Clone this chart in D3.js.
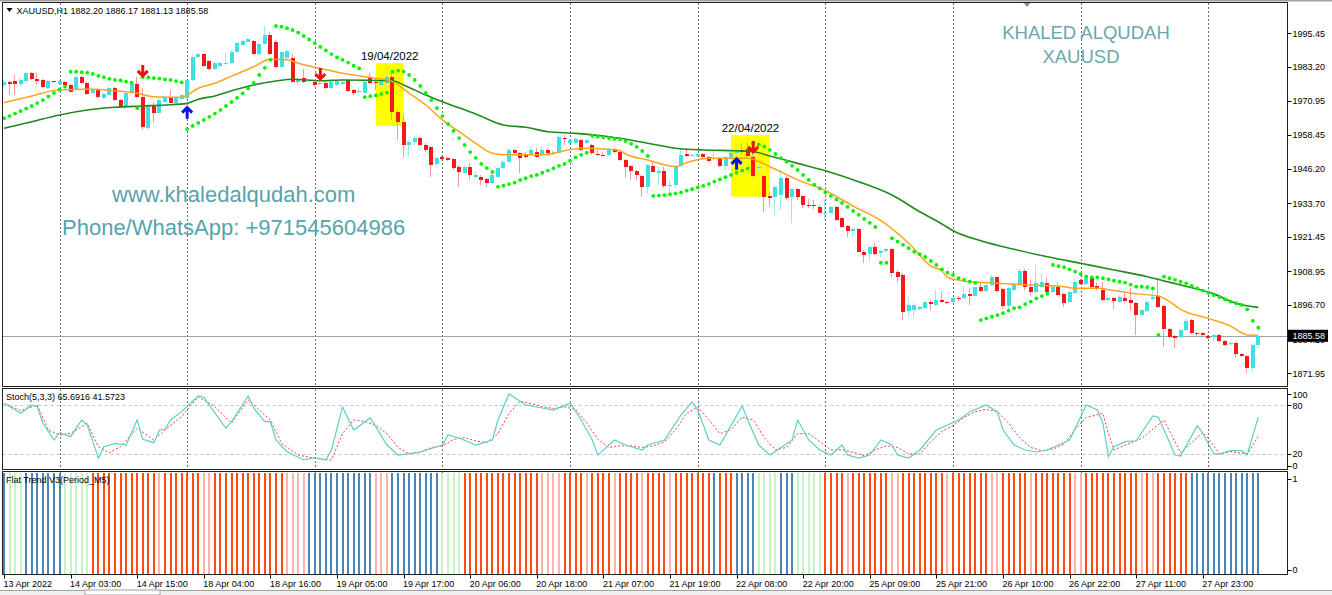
<!DOCTYPE html>
<html><head><meta charset="utf-8">
<script src="https://cdn.jsdelivr.net/npm/d3@7"></script>
<style>body{margin:0;background:#fff;overflow:hidden}svg{display:block;font-family:"Liberation Sans",Arial,sans-serif}</style>
</head><body><svg id="c" width="1332" height="595"></svg>
<script>
// ---------------- DATA ----------------
const timeLabels = ["13 Apr 2022","14 Apr 03:00","14 Apr 15:00","18 Apr 04:00","18 Apr 16:00","19 Apr 05:00","19 Apr 17:00","20 Apr 06:00","20 Apr 18:00","21 Apr 07:00","21 Apr 19:00","22 Apr 08:00","22 Apr 20:00","25 Apr 09:00","25 Apr 21:00","26 Apr 10:00","26 Apr 22:00","27 Apr 11:00","27 Apr 23:00"];
const priceTicks = [1995.45,1983.20,1970.95,1958.45,1946.20,1933.70,1921.45,1908.95,1896.70,1884.20,1871.95];
const stochTicks = [100,80,20,0];
const flatTicks = [1,0];
const gridBars = [10,33,56,79,102,125,148,171,194,217];

const openP = [1976.7,1977.6,1978.0,1977.0,1978.0,1980.9,1978.7,1978.5,1975.6,1978.0,1977.0,1977.8,1976.7,1974.9,1979.5,1977.3,1973.7,1975.1,1971.9,1973.0,1975.5,1971.2,1968.6,1973.7,1976.9,1972.2,1961.1,1969.5,1966.6,1970.6,1972.2,1970.3,1971.5,1971.9,1978.5,1987.0,1987.8,1985.4,1982.4,1983.6,1984.3,1984.6,1988.8,1991.2,1992.4,1992.8,1987.9,1991.6,1994.8,1992.4,1983.3,1986.5,1986.4,1977.9,1979.1,1978.0,1977.9,1977.0,1977.5,1975.7,1976.7,1977.0,1978.5,1974.9,1974.1,1973.9,1979.1,1977.9,1976.7,1977.3,1979.7,1967.0,1963.4,1954.9,1956.1,1957.3,1954.9,1954.1,1948.0,1950.4,1950.1,1949.7,1947.0,1944.8,1946.8,1943.2,1943.4,1942.4,1941.2,1943.4,1946.4,1948.8,1953.1,1952.0,1951.3,1951.3,1952.5,1951.3,1953.1,1952.1,1951.9,1957.5,1955.5,1955.5,1956.7,1955.5,1954.9,1951.6,1951.4,1951.3,1953.3,1952.3,1949.4,1947.3,1945.6,1943.6,1939.5,1947.4,1944.8,1945.6,1940.0,1940.4,1947.3,1951.5,1950.9,1950.9,1951.5,1950.4,1949.8,1950.3,1947.3,1950.4,1952.1,1953.1,1953.3,1950.6,1946.8,1943.6,1936.4,1936.1,1936.7,1942.9,1935.9,1938.8,1936.4,1933.1,1933.1,1932.5,1930.1,1930.1,1932.5,1928.3,1925.5,1923.8,1924.3,1916.1,1915.3,1918.0,1915.6,1916.5,1917.0,1908.9,1907.7,1894.7,1895.0,1895.2,1895.6,1898.0,1896.8,1898.6,1898.0,1898.0,1899.4,1899.2,1900.8,1900.0,1903.4,1901.9,1904.0,1906.8,1902.5,1896.4,1902.2,1904.4,1909.2,1903.4,1901.6,1903.4,1904.9,1901.6,1903.4,1900.8,1898.0,1901.0,1905.9,1904.4,1906.5,1903.7,1902.2,1898.6,1899.2,1898.0,1899.2,1898.6,1897.6,1893.1,1894.7,1898.8,1900.0,1896.4,1888.0,1885.5,1885.0,1887.7,1891.3,1886.5,1886.5,1885.5,1885.0,1885.9,1883.8,1882.6,1883.1,1879.0,1878.3,1873.8,1882.20];
const highP = [1978.5,1978.1,1980.3,1979.2,1981.4,1981.4,1981.2,1978.9,1978.5,1978.1,1978.5,1978.1,1977.0,1979.9,1979.9,1977.8,1975.6,1975.6,1973.8,1976.0,1976.0,1971.6,1974.1,1977.4,1979.7,1975.6,1969.8,1970.5,1972.0,1972.7,1974.9,1972.3,1973.4,1978.9,1987.6,1988.3,1988.3,1985.8,1985.0,1985.0,1988.2,1989.4,1992.3,1993.0,1993.7,1993.0,1991.9,1998.1,1996.0,1993.0,1989.0,1989.4,1987.9,1979.2,1982.4,1978.5,1978.5,1977.8,1978.1,1978.1,1978.5,1978.5,1978.9,1975.2,1976.1,1978.5,1980.9,1979.2,1978.9,1980.3,1981.5,1967.6,1965.8,1956.7,1958.2,1957.8,1955.6,1954.5,1950.5,1951.3,1950.5,1950.2,1947.6,1947.3,1948.4,1945.1,1944.0,1942.9,1944.7,1946.9,1949.4,1953.8,1953.4,1952.3,1952.3,1954.2,1953.8,1954.2,1953.8,1952.7,1958.2,1958.5,1957.1,1957.3,1957.1,1957.1,1955.3,1953.1,1952.3,1953.8,1953.8,1952.7,1949.8,1947.6,1945.8,1944.0,1948.0,1949.2,1947.0,1947.0,1942.2,1947.6,1953.3,1953.7,1951.6,1952.0,1952.0,1950.9,1953.1,1950.5,1950.9,1952.3,1953.4,1955.5,1955.5,1953.4,1947.3,1944.0,1937.9,1940.0,1945.8,1943.6,1939.2,1939.2,1936.7,1935.2,1934.9,1933.1,1934.9,1932.7,1932.7,1928.7,1925.8,1924.7,1924.7,1916.7,1918.2,1919.3,1916.7,1917.5,1917.5,1909.5,1908.4,1899.8,1897.5,1896.4,1898.2,1898.6,1902.2,1901.6,1898.3,1899.6,1900.0,1903.7,1902.8,1903.4,1904.9,1904.4,1907.7,1907.1,1902.8,1903.2,1904.7,1909.7,1909.7,1905.9,1911.3,1908.3,1907.1,1904.0,1905.2,1901.1,1902.0,1906.5,1906.2,1907.7,1906.8,1904.7,1905.2,1899.6,1899.7,1900.0,1901.2,1902.8,1898.0,1895.3,1898.3,1902.8,1906.5,1896.8,1888.4,1885.9,1888.1,1891.7,1891.7,1887.0,1887.0,1885.9,1886.2,1886.2,1884.1,1883.3,1883.4,1879.3,1878.6,1882.6,1886.17];
const lowP = [1976.0,1973.0,1973.0,1976.3,1977.4,1978.5,1976.7,1975.6,1975.2,1977.4,1976.7,1976.3,1974.1,1974.5,1977.0,1973.0,1973.4,1972.0,1971.6,1972.7,1970.9,1968.3,1968.3,1973.4,1972.0,1960.3,1960.3,1962.9,1966.5,1970.5,1970.1,1970.1,1971.2,1971.6,1978.1,1986.5,1983.2,1982.1,1982.1,1983.2,1983.9,1984.3,1988.7,1990.8,1992.3,1987.6,1987.6,1991.2,1987.6,1982.9,1983.2,1985.8,1977.8,1976.7,1977.4,1977.8,1976.0,1976.7,1975.2,1975.6,1976.3,1976.7,1974.1,1973.0,1973.7,1973.8,1977.0,1974.9,1976.3,1976.7,1964.0,1956.7,1950.6,1950.5,1954.9,1954.5,1952.3,1943.4,1947.3,1949.1,1949.1,1945.8,1939.7,1944.4,1942.2,1942.9,1940.4,1939.6,1940.7,1942.9,1946.2,1948.7,1951.6,1944.7,1950.2,1950.9,1950.2,1950.9,1951.3,1951.3,1951.6,1954.9,1954.9,1954.9,1952.7,1955.3,1951.3,1950.9,1950.9,1950.9,1952.0,1949.1,1943.4,1942.2,1942.2,1936.1,1937.3,1945.1,1940.4,1939.2,1937.9,1939.5,1947.0,1950.5,1950.5,1950.5,1950.2,1948.8,1949.4,1946.9,1945.8,1950.2,1951.9,1951.3,1950.6,1943.2,1945.2,1930.7,1932.5,1929.5,1931.3,1934.9,1926.6,1934.9,1931.9,1931.9,1931.5,1930.1,1927.6,1929.8,1927.3,1924.7,1921.6,1921.6,1916.0,1911.9,1912.5,1914.9,1914.3,1916.1,1907.1,1905.2,1891.3,1892.5,1891.9,1895.0,1895.3,1895.0,1896.4,1897.5,1897.1,1897.6,1898.3,1899.0,1896.8,1899.7,1901.6,1901.5,1903.7,1901.6,1895.2,1895.2,1901.9,1904.0,1902.2,1900.4,1901.2,1903.2,1901.2,1901.2,1900.0,1896.2,1897.6,1900.8,1904.0,1904.0,1903.2,1902.2,1898.2,1898.2,1895.2,1897.6,1897.9,1895.0,1885.9,1892.8,1894.3,1898.6,1895.6,1881.6,1884.9,1881.0,1884.7,1887.3,1886.2,1885.5,1885.5,1884.4,1883.4,1883.4,1881.9,1882.2,1877.4,1877.9,1872.0,1872.6,1881.13];
const closeP = [1977.9,1977.2,1977.2,1978.5,1980.9,1978.7,1978.0,1975.8,1978.0,1977.8,1978.1,1976.7,1974.2,1979.5,1977.3,1973.4,1975.1,1972.2,1973.4,1975.5,1971.2,1968.6,1973.7,1976.9,1972.2,1961.3,1969.5,1966.6,1971.2,1972.2,1970.3,1971.9,1973.0,1978.5,1986.7,1987.8,1983.6,1982.4,1984.8,1984.8,1984.8,1988.8,1991.8,1992.8,1993.3,1987.8,1991.6,1994.8,1987.9,1983.3,1988.8,1989.1,1977.9,1978.7,1977.9,1978.4,1976.7,1977.3,1975.5,1977.9,1978.1,1977.9,1974.5,1973.7,1974.5,1977.9,1977.3,1977.4,1978.5,1979.7,1967.0,1963.4,1954.9,1956.1,1957.3,1954.9,1953.1,1947.6,1950.1,1949.7,1949.4,1946.4,1945.2,1946.8,1944.0,1944.0,1942.2,1941.2,1944.0,1946.4,1948.8,1953.1,1952.1,1950.2,1950.6,1953.1,1950.6,1953.1,1951.9,1951.6,1957.7,1957.2,1956.7,1957.0,1953.1,1956.7,1951.9,1951.2,1951.2,1953.3,1952.5,1949.4,1947.0,1945.6,1944.0,1939.5,1947.6,1945.2,1945.4,1940.0,1940.4,1947.3,1951.3,1950.9,1951.3,1951.5,1950.6,1949.2,1950.3,1947.3,1950.4,1952.1,1953.1,1952.5,1951.0,1943.6,1947.0,1936.1,1935.5,1939.5,1942.9,1935.5,1938.8,1936.1,1933.1,1932.7,1932.7,1930.3,1930.3,1932.5,1927.6,1925.0,1923.8,1924.3,1916.1,1914.9,1918.0,1915.3,1916.5,1917.0,1908.5,1907.1,1894.3,1896.8,1896.8,1895.9,1897.9,1897.1,1898.6,1897.9,1897.4,1899.2,1899.1,1900.8,1900.0,1903.2,1902.0,1904.0,1906.8,1902.0,1896.4,1902.8,1904.4,1909.2,1903.2,1901.6,1904.7,1905.2,1901.6,1903.4,1900.4,1897.6,1901.6,1905.2,1904.4,1906.5,1903.4,1902.8,1898.6,1899.2,1898.3,1899.6,1898.3,1897.6,1893.1,1895.0,1898.0,1899.6,1895.9,1888.0,1885.3,1884.9,1887.7,1891.1,1886.5,1886.2,1885.9,1884.7,1885.9,1883.8,1882.2,1882.9,1879.0,1878.3,1873.8,1882.2,1885.58];

const fastMABars = [0,5,10,15,20,24,27,32,33,35,38,41,45,48,51,53,55,57,61,67,70,73,76,79,82,85,88,91,97,101,104,109,111,112,116,121,123,127,131,134,138,143,148,153,158,163,167,169,170,174,179,185,190,193,197,200,204,208,210,212,217,221,224,226];
const fastMA = [1970.25,1972.7,1974.9,1975.1,1974.6,1973.7,1972.4,1972.2,1973.0,1975.5,1977.3,1979.9,1983.3,1986.0,1985.8,1984.6,1983.6,1982.7,1980.9,1979.1,1977.9,1973.7,1969.4,1964.0,1959.7,1955.5,1951.9,1951.3,1951.3,1952.8,1953.7,1953.3,1952.8,1951.6,1949.4,1947.0,1948.5,1950.1,1950.1,1950.1,1947.0,1942.2,1938.3,1932.7,1927.4,1919.2,1910.9,1909.2,1906.8,1905.2,1904.7,1904.0,1903.7,1902.8,1902.8,1902.0,1900.8,1900.0,1898.0,1895.2,1891.9,1889.1,1885.9,1885.8];
const slowMABars = [0,5,10,15,20,25,29,33,35,38,41,45,49,52,57,61,70,72,76,79,85,90,94,98,103,109,111,116,121,126,132,135,138,143,148,154,160,165,169,171,176,182,188,194,200,206,212,218,222,226];
const slowMA = [1960.95,1963.35,1965.8,1967.6,1968.6,1969.05,1969.4,1970.0,1971.5,1972.7,1974.6,1976.7,1978.1,1978.75,1978.2,1978.5,1978.2,1976.7,1973.0,1970.6,1966.15,1962.15,1961.3,1959.7,1959.1,1957.9,1957.3,1955.5,1953.7,1953.05,1952.8,1952.45,1950.9,1948.2,1945.55,1941.55,1936.7,1930.65,1926.2,1923.75,1920.1,1917.0,1914.3,1911.9,1909.5,1907.05,1904.0,1900.8,1897.4,1895.9];

const sarP = [1964.6,1965.4,1966.3,1967.2,1968.1,1969.05,1970.1,1971.2,1972.5,1973.8,1975.0,1976.1,
1981.5,1981.5,1981.3,1981.15,1980.7,1979.95,1979.5,1978.9,1978.5,1978.3,1977.9,1977.5,
1968.3,
1979.5,1979.4,1979.2,1979.0,1978.7,1978.5,1978.1,1977.65,
1960.7,1961.8,1962.9,1964.0,1965.1,1966.3,1967.6,1969.05,1970.5,1972.0,1973.6,1975.4,1977.4,1980.3,1982.9,1985.8,
1998.1,1997.85,1997.3,1996.65,1995.7,1994.5,1993.2,1991.9,1990.5,1989.2,1987.9,1986.7,1985.8,1984.8,1983.7,1982.7,
1972.3,1972.6,1972.9,1973.4,1973.9,
1981.5,1981.9,1981.6,1980.3,1978.5,1976.3,1973.8,1971.2,1968.3,1965.4,1962.5,1960.0,1957.4,1954.9,1952.3,1950.2,1948.0,1946.5,1945.1,
1939.7,1940.1,1940.7,1941.2,1942.2,1942.8,1943.6,1944.0,1944.8,1945.6,1946.4,1947.3,1948.0,1949.2,1950.4,1951.3,1952.1,
1958.2,1957.9,1957.7,1957.4,1957.1,1957.0,1956.3,1955.3,1954.2,1952.7,1950.9,
1936.4,1936.5,1936.7,1937.0,1937.3,1937.7,1938.3,1938.8,1939.5,1940.0,1940.7,1941.6,1942.4,1943.2,1944.0,1944.8,1945.6,1946.3,
1955.5,1955.1,1954.3,1953.1,1951.6,1950.1,1948.8,1947.3,1945.8,1944.0,1942.2,1940.5,1939.1,1937.7,1936.4,1935.1,1933.8,1932.4,1930.9,1929.5,1928.0,1926.6,1925.1,
1912.1,1912.1,
1921.0,1919.8,1918.6,1917.4,1916.1,1915.2,1914.2,1912.75,1911.3,1909.7,1908.5,1907.7,1906.5,1905.9,1905.2,1904.8,
1891.3,1891.9,1892.5,1893.1,1893.8,1894.7,1895.6,1895.9,1897.1,1898.0,1899.2,1900.0,1900.8,
1911.3,1910.9,1910.5,1909.7,1908.9,1908.0,1907.1,1906.8,1906.8,1906.5,1906.1,1905.6,1905.2,1904.9,1904.15,1903.4,1903.4,1903.2,1902.8,
1885.9,
1907.05,1906.5,1905.9,1905.2,1904.65,1903.7,1902.8,1902.0,1901.2,1900.4,1899.6,1898.8,1898.0,1897.4,1896.8,1895.2,1891.0,1888.5];

const sellArrowBars = [25,57,135];
const sellArrowPrice = [1979.6,1978.5,1952.0];
const buyArrowBars = [33,132];
const buyArrowPrice = [1968.8,1950.2];

const boxStartBar = [67,131], boxEndBar = [72,138];
const boxTop = [1984.6,1958.5], boxBottom = [1961.8,1936.1];
const boxLabels = ["19/04/2022","22/04/2022"];

const stochMainBars = [0,3,5,6,7,9,10,12,14,15,17,18,20,22,24,25,27,28,29,30,32,35,36,40,41,44,45,47,48,49,51,54,56,58,59,61,63,66,69,71,75,79,80,82,85,88,89,91,94,97,99,102,104,106,107,110,112,115,116,119,122,124,125,127,129,133,134,136,138,142,143,145,147,149,151,152,154,156,158,160,161,163,165,168,170,172,174,177,179,180,182,184,186,188,190,192,195,197,198,199,200,202,204,207,208,211,212,215,216,218,219,221,223,224,226];
const stochMain = [82.4,70.1,80.3,78.2,57.8,37.2,46.2,41.3,61.8,55.7,14.7,29,33.1,31,61.8,38.1,33.9,49.5,50.4,61.8,72.1,91.4,89.8,51.6,59.8,91.4,76.3,59.8,59.8,37.2,22.8,12.6,15.4,12.6,24.9,77.9,49.5,64.3,31,18.7,22.4,31,43.4,39.7,31,37.2,61.8,93.9,80.3,76.6,74.1,82.8,61.8,37.2,18.7,37.2,31,24.9,31,37.2,68,84,74.1,37.2,31,79.1,61.8,31,18.7,37.2,61.8,37.2,24.9,18.7,31,18.7,15,18.7,37.2,31,18.7,15,24.9,49.5,55.7,61.8,71.7,80.3,71.7,49.5,31,24.9,22.4,24.9,31,37.2,80.3,74.1,57.8,16.6,29,35.1,36.3,66.8,65.2,18.7,17.5,54.8,45.5,20,20,24,24,18.7,65.69];
const stochSigBars = [0,3,6,8,10,12,15,17,19,21,24,27,29,32,35,38,41,44,48,50,53,56,59,61,63,65,67,69,71,73,75,77,79,81,83,85,87,89,91,93,95,97,99,101,103,105,107,109,111,113,115,117,119,121,123,125,127,129,131,133,135,137,139,141,143,145,147,149,151,153,155,157,159,161,163,165,167,169,171,173,175,177,179,181,183,185,187,189,191,193,195,198,199,200,205,209,212,216,217,219,221,224,226];
const stochSig = [82.4,73.3,80.3,49.5,43.4,45.5,57.8,29,21.6,29,51.6,37.2,49.5,65.9,90.6,78.2,57.8,86.5,61.8,33.1,18.7,14.7,12.6,45,62,60,55,45,28,20,22,28,30,38,40,36,34,45,70,85,82,78,76,78,75,58,38,28,30,30,28,30,35,50,70,78,62,45,50,65,62,40,25,28,45,45,35,25,25,22,18,25,30,28,20,20,35,48,55,65,72,75,72,58,40,28,24,26,32,50,65,70,45,25,39.3,61.8,21.6,46.2,39.3,20,22.8,20,41.57];

// Flat Trend V3 state per bar: G pale green, B blue, R strong red, P weak red
const flatTrend = ("B"+"GGG"+"BBBBBBB"+"GGGGG"+"RRRRRRRRRRRRPRRRRRRRPPRRRRRRRRRRRRRR".slice(0,35)+"PPPP"+"BBBBBBBBBBBB"+"PPP"+"BBBBBBBBB"+"GGGG"+"RRRRRRRRRRRRRR"+"PPPP"+"RRRRPRRRRPRRRRPRRRRPRRRRRRR"+"B"+"RRR"+"BBBB"+"GGGG"+"BBB"+"GGGGG"+"RRRRPRRRRRRRPPRRRRRRRRPRRRRRRRPPRRRRRPRRRRRRRPPRRRRRRRRRRPRPRRRRRRR".slice(0,66)+"BBBBBBBBBBBBB").split("");

// ---------------- DRAW ----------------
const svg = d3.select("#c");
const L = 2.5, R = 1287.5;
const x = d3.scaleLinear().domain([0,226]).range([4,1258.3]);
const y = d3.scaleLinear().domain([1871.95,1995.45]).range([373.3,33.3]);
const ys = d3.scaleLinear().domain([0,100]).range([470.2,389.0]);
const yf = d3.scaleLinear().domain([0,1]).range([574,472.5]);
const bars = d3.range(openP.length);

const defs = svg.append("defs");
[["cm",3,386],["cs",389,469],["cf",472,574],["cl",336.5,360]].forEach(([id,t,b])=>{
  defs.append("clipPath").attr("id",id).append("rect").attr("x",id==="cl"?R:L).attr("y",t).attr("width",id==="cl"?45:R-L).attr("height",b-t);
});

// top band
svg.append("rect").attr("x",0).attr("y",0).attr("width",1332).attr("height",1.5).attr("fill","#a0a0a0");
// bottom tab strip
svg.append("rect").attr("x",0).attr("y",590).attr("width",1332).attr("height",5).attr("fill","#f0f0f0");
svg.append("line").attr("x1",0).attr("x2",1332).attr("y1",590.5).attr("y2",590.5).attr("stroke","#a0a0a0");
svg.append("rect").attr("x",85).attr("y",590).attr("width",75).attr("height",5).attr("fill","#fff").attr("stroke","#a0a0a0");

const gMain = svg.append("g").attr("clip-path","url(#cm)");
const gSt = svg.append("g").attr("clip-path","url(#cs)");
const gFl = svg.append("g").attr("clip-path","url(#cf)");

// grid
[[gMain,3,386],[gSt,389,469],[gFl,472,574]].forEach(([g,t,b])=>{
  g.selectAll(null).data(gridBars).join("line")
   .attr("x1",d=>Math.round(x(d))+0.5).attr("x2",d=>Math.round(x(d))+0.5)
   .attr("y1",t).attr("y2",b).attr("stroke","#6e6e6e").attr("stroke-dasharray","2,2");
});

// yellow boxes
gMain.selectAll(null).data(boxStartBar).join("rect")
  .attr("x",(d,i)=>x(d)).attr("width",(d,i)=>x(boxEndBar[i])-x(d))
  .attr("y",(d,i)=>y(boxTop[i])).attr("height",(d,i)=>y(boxBottom[i])-y(boxTop[i]))
  .attr("fill","#ffff00");
gMain.selectAll(null).data(boxLabels).join("text")
  .attr("x",(d,i)=>(x(boxStartBar[i])+x(boxEndBar[i]))/2).attr("y",(d,i)=>y(boxTop[i])-3)
  .attr("text-anchor","middle").attr("font-size","11.5px").attr("fill","#000").text(d=>d);

// current price line
const cp = closeP[closeP.length-1];
gMain.append("line").attr("x1",L).attr("x2",R).attr("y1",Math.round(y(cp))+0.5).attr("y2",Math.round(y(cp))+0.5).attr("stroke","#9aa6b6");

// candles
const bull = i=>closeP[i]>=openP[i];
const cg = gMain.append("g").attr("shape-rendering","crispEdges");
cg.selectAll(null).data(bars).join("rect")
  .attr("x",i=>Math.round(x(i))-1).attr("width",1)
  .attr("y",i=>y(highP[i])).attr("height",i=>Math.max(1,y(lowP[i])-y(highP[i])))
  .attr("fill",i=>bull(i)?"#9beaea":"#f59a9a");
cg.selectAll(null).data(bars).join("rect")
  .attr("x",i=>Math.round(x(i))-2).attr("width",4)
  .attr("y",i=>y(Math.max(openP[i],closeP[i])))
  .attr("height",i=>Math.max(1,Math.abs(y(openP[i])-y(closeP[i]))))
  .attr("fill",i=>bull(i)?"#3fe0e0":"#f51a1a");

// moving averages
const line = d3.line().curve(d3.curveMonotoneX);
gMain.append("path").attr("d",line(slowMABars.map((b,i)=>[x(b),y(slowMA[i])]))).attr("fill","none").attr("stroke","#1f8a1f").attr("stroke-width",1.6);
gMain.append("path").attr("d",line(fastMABars.map((b,i)=>[x(b),y(fastMA[i])]))).attr("fill","none").attr("stroke","#ffa41c").attr("stroke-width",1.5);

// parabolic SAR
gMain.selectAll(null).data(bars).join("circle")
  .attr("cx",i=>x(i)).attr("cy",i=>y(sarP[i])).attr("r",1.9)
  .attr("fill","#00f400");

// arrows
const arrowD = "M0,-12 L0,-1 M-5,-6 L0,-1 L5,-6";
gMain.selectAll(null).data(sellArrowBars).join("path")
  .attr("transform",(d,i)=>`translate(${x(d)},${y(sellArrowPrice[i])})`)
  .attr("d",arrowD).attr("fill","none").attr("stroke","#f01010").attr("stroke-width",3);
gMain.selectAll(null).data(buyArrowBars).join("path")
  .attr("transform",(d,i)=>`translate(${x(d)},${y(buyArrowPrice[i])}) scale(1,-1)`)
  .attr("d",arrowD).attr("fill","none").attr("stroke","#1010e8").attr("stroke-width",3);

// watermark texts
gMain.append("text").attr("x",1086).attr("y",38.5).attr("text-anchor","middle").attr("font-size","18.5px").attr("fill","#6aa7ae").text("KHALED ALQUDAH");
gMain.append("text").attr("x",1081).attr("y",63).attr("text-anchor","middle").attr("font-size","18.5px").attr("fill","#6aa7ae").text("XAUUSD");
gMain.append("text").attr("x",112).attr("y",201.5).attr("font-size","22px").attr("fill","#55a3ab").text("www.khaledalqudah.com");
gMain.append("text").attr("x",62).attr("y",235).attr("font-size","22px").attr("fill","#55a3ab").text("Phone/WhatsApp: +971545604986");

// header
svg.append("path").attr("d","M6.5,8 L12.5,8 L9.5,12 Z").attr("fill","#000");
svg.append("text").attr("x",16.5).attr("y",13.5).attr("font-size","9px").attr("fill","#000")
  .text("XAUUSD,H1 1882.20 1886.17 1881.13 1885.58");
// shift marker
svg.append("path").attr("d","M1023,2 L1031,2 L1027,7 Z").attr("fill","#8c8c8c");

// stochastic
gSt.selectAll(null).data([80,20]).join("line").attr("x1",L).attr("x2",R)
  .attr("y1",d=>Math.round(ys(d))+0.5).attr("y2",d=>Math.round(ys(d))+0.5)
  .attr("stroke","#c4c4c4").attr("stroke-dasharray","3,3");
gSt.append("path").attr("d",d3.line()(stochSigBars.map((b,i)=>[x(b),ys(stochSig[i])]))).attr("fill","none").attr("stroke","#ff3b3b").attr("stroke-width",1).attr("stroke-dasharray","2,2");
gSt.append("path").attr("d",d3.line()(stochMainBars.map((b,i)=>[x(b),ys(stochMain[i])]))).attr("fill","none").attr("stroke","#5ccfc6").attr("stroke-width",1.2);
svg.append("text").attr("x",6).attr("y",399.5).attr("font-size","9px").text("Stoch(5,3,3) 65.6916 41.5723");

// flat trend histogram
const ftColor = {G:"#c6f2c6",B:"#4a84b8",R:"#ff4a12",P:"#ffb3ad"};
gFl.selectAll(null).data(bars).join("rect").attr("shape-rendering","crispEdges")
  .attr("x",i=>Math.round(x(i))-1).attr("width",2)
  .attr("y",yf(1)).attr("height",yf(0)-yf(1))
  .attr("fill",i=>ftColor[flatTrend[i]||"R"]);
svg.append("text").attr("x",6).attr("y",483).attr("font-size","9px").text("Flat Trend V3(Period_M5)");

// panel borders
[[2.5,386.5],[388.5,469.5],[471.5,574.5]].forEach(([t,b])=>{
  svg.append("rect").attr("x",L).attr("y",t).attr("width",R-L).attr("height",b-t).attr("fill","none").attr("stroke","#222");
});

// right price axis
const ax = svg.append("g").attr("font-size","9px").attr("fill","#000");
ax.selectAll(null).data(priceTicks).join("line").attr("x1",R).attr("x2",R+4)
  .attr("y1",d=>Math.round(y(d))+0.5).attr("y2",d=>Math.round(y(d))+0.5).attr("stroke","#000");
// the 1884.20 label sits under the current-price tag; only its lower part peeks out
ax.selectAll(null).data(priceTicks).join("text").attr("x",R+5).attr("y",d=>y(d)+3.2)
  .attr("clip-path",d=>Math.abs(y(d)-y(cp))<10?"url(#cl)":null).text(d=>d.toFixed(2));
// current price label
svg.append("rect").attr("x",R+0.5).attr("y",y(cp)-6).attr("width",40).attr("height",12).attr("fill","#000");
svg.append("text").attr("x",R+5).attr("y",y(cp)+3.2).attr("font-size","9px").attr("fill","#fff").text(cp.toFixed(2));
// stoch axis
const stLabelY = {100:394.3,80:405.3,20:454,0:465.7};
ax.selectAll(null).data(stochTicks).join("text").attr("x",R+5).attr("y",d=>stLabelY[d]+3.2).text(d=>d);
ax.selectAll(null).data(stochTicks).join("line").attr("x1",R).attr("x2",R+4)
  .attr("y1",d=>Math.round(stLabelY[d])+0.5).attr("y2",d=>Math.round(stLabelY[d])+0.5).attr("stroke","#000");
const flLabelY = {1:479,0:570};
ax.selectAll(null).data(flatTicks).join("text").attr("x",R+5).attr("y",d=>flLabelY[d]+3.2).text(d=>d);
ax.selectAll(null).data(flatTicks).join("line").attr("x1",R).attr("x2",R+4)
  .attr("y1",d=>Math.round(flLabelY[d])+0.5).attr("y2",d=>Math.round(flLabelY[d])+0.5).attr("stroke","#000");

// bottom time axis
const tb = svg.append("g").attr("font-size","9px").attr("fill","#000");
tb.selectAll(null).data(timeLabels).join("line")
  .attr("x1",(d,i)=>Math.round(x(i*12))+0.5).attr("x2",(d,i)=>Math.round(x(i*12))+0.5)
  .attr("y1",574.5).attr("y2",578.5).attr("stroke","#000");
tb.selectAll(null).data(timeLabels).join("text")
  .attr("x",(d,i)=>x(i*12)-0.5).attr("y",586.5).text(d=>d);
</script></body></html>
